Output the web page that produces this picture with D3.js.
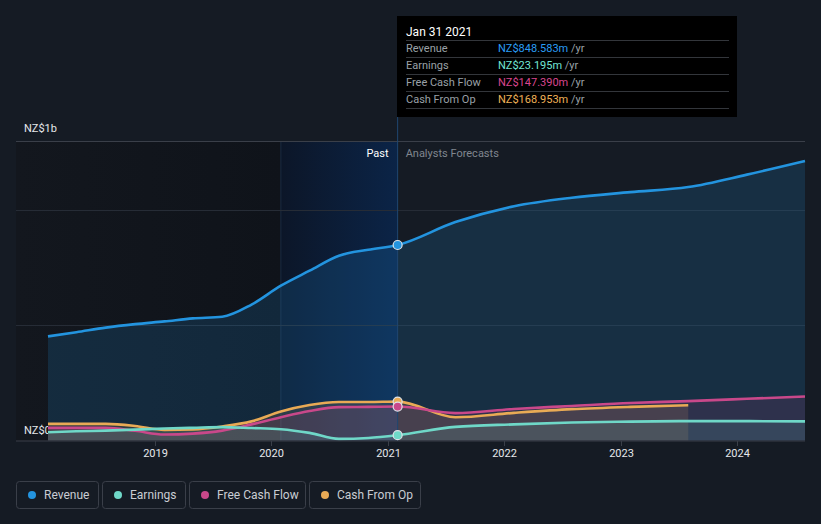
<!DOCTYPE html>
<html><head><meta charset="utf-8">
<script src="https://cdn.jsdelivr.net/npm/d3@7"></script>
<style>html,body{margin:0;padding:0;background:#151b24;} svg{display:block;font-family:Roboto,"Noto Sans",sans-serif;}</style>
</head><body><svg id="c" width="821" height="524"></svg>
<script>
const dates = ["2018-01-31","2018-04-30","2018-07-31","2018-10-31","2019-01-31","2019-04-30","2019-07-31","2019-10-31","2020-01-31","2020-04-30","2020-07-31","2020-10-31","2021-01-31","2021-07-31","2022-01-31","2022-07-31","2023-01-31","2023-07-31","2024-01-31","2024-07-31"];
const revenue = [452,470,490,505,517,530,537,590,672,737,802,828,848.583,948,1017,1054,1078,1100,1154,1213];
const earnings = [36,40,43,47,52,55,58,54,49,33,7,11,23.195,59,70,78,82,84,84,83];
const freeCashFlow = [55,55,55,42,26,30,43,70,101,128,145,146,147.39,119,137,150,163,171,181,191];
const cashFromOp = [72,72,72,63,46,48,61,83,126,154,167,167,168.953,101,120,136,146,153,null,null];
const seriesNames = ["Revenue","Earnings","Free Cash Flow","Cash From Op"];
const seriesColors = ["#2394df","#6fd8c8","#c9488a","#e9aa55"];
const tooltipColors = ["#2a9df4","#72e6d4","#d9468f","#f0b257"];
const tooltipDate = "Jan 31 2021";
const tooltipValues = ["NZ$848.583m","NZ$23.195m","NZ$147.390m","NZ$168.953m"];
const yGridValues = [500,1000,1300];
const yDomainMax = 1300;
const yLabelTop = "NZ$1b", yLabelZero = "NZ$0";
const xTickYears = [2019,2020,2021,2022,2023,2024];
const pastStart = "2020-01-31", pastEnd = "2021-01-31";

(function(){
const parse = d3.timeParse("%Y-%m-%d");
const D = dates.map(parse);
const svg = d3.select("#c");
const pL = 16, pR = 805, pT = 141, pB = 440.5;
const x = d3.scaleTime().domain([D[0], D[D.length-1]]).range([48, 805]);
const y = d3.scaleLinear().domain([0, yDomainMax]).range([pB, pT]);

const defs = svg.append("defs");
const pg = defs.append("linearGradient").attr("id","pastg").attr("x1","0").attr("x2","1").attr("y1","0").attr("y2","0");
pg.append("stop").attr("offset","0").attr("stop-color","#0c1628");
pg.append("stop").attr("offset","1").attr("stop-color","#0b2447");
const lg = defs.append("linearGradient").attr("id","leftg").attr("x1","0").attr("x2","1").attr("y1","0").attr("y2","0");
lg.append("stop").attr("offset","0").attr("stop-color","#13171e");
lg.append("stop").attr("offset","1").attr("stop-color","#0f131a");
defs.append("clipPath").attr("id","lblclip").append("rect").attr("x",0).attr("y",0).attr("width",x(D[0])).attr("height",524);

const xp0 = x(parse(pastStart)), xp1 = x(parse(pastEnd));
svg.append("rect").attr("x",pL).attr("y",pT).attr("width",xp0-pL).attr("height",pB-pT).attr("fill","url(#leftg)");
svg.append("rect").attr("x",xp0).attr("y",pT).attr("width",xp1-xp0).attr("height",pB-pT).attr("fill","url(#pastg)");
svg.append("line").attr("x1",xp0).attr("x2",xp0).attr("y1",pT).attr("y2",pB).attr("stroke","#1a2a40").attr("stroke-width",1);

yGridValues.forEach(v=>{
  svg.append("line").attr("x1",pL).attr("x2",pR).attr("y1",Math.round(y(v))+0.5).attr("y2",Math.round(y(v))+0.5)
    .attr("stroke", v===yDomainMax ? "#3a3f49" : "#262c36").attr("stroke-width",1);
});

svg.append("text").attr("x",24).attr("y",pT-9).attr("fill","#e6e8eb").attr("font-size",11).text(yLabelTop);
svg.append("text").attr("x",24).attr("y",pB-7).attr("fill","#e6e8eb").attr("font-size",11).attr("clip-path","url(#lblclip)").text(yLabelZero);

const series = [revenue, earnings, freeCashFlow, cashFromOp];
const order = [0,3,2,1];
const areaOpac = [0.17,0.13,0.13,0.14];
order.forEach(i=>{
  const vals = series[i];
  const pts = D.map((d,k)=>[d, vals[k]]);
  const area = d3.area().defined(p=>p[1]!=null).x(p=>x(p[0])).y0(y(0)).y1(p=>y(p[1])).curve(d3.curveMonotoneX);
  svg.append("path").datum(pts).attr("d",area).attr("fill",seriesColors[i]).attr("fill-opacity",areaOpac[i]);
});
order.forEach(i=>{
  const vals = series[i];
  const pts = D.map((d,k)=>[d, vals[k]]);
  const line = d3.line().defined(p=>p[1]!=null).x(p=>x(p[0])).y(p=>y(p[1])).curve(d3.curveMonotoneX);
  svg.append("path").datum(pts).attr("d",line).attr("fill","none").attr("stroke",seriesColors[i]).attr("stroke-width",2.6);
});

svg.append("line").attr("x1",xp1).attr("x2",xp1).attr("y1",117).attr("y2",pB).attr("stroke","#1f4670").attr("stroke-width",1);

svg.append("line").attr("x1",pL).attr("x2",pR).attr("y1",441).attr("y2",441).attr("stroke","#3a3f49");
xTickYears.forEach(yr=>{
  const xx = Math.round(x(new Date(yr,0,1)))+0.5;
  svg.append("line").attr("x1",xx).attr("x2",xx).attr("y1",441).attr("y2",446).attr("stroke","#3a3f49");
  svg.append("text").attr("x",xx).attr("y",457).attr("text-anchor","middle").attr("fill","#e6e8eb").attr("font-size",11).text(yr);
});

const ip = dates.indexOf(pastEnd);
order.forEach(i=>{
  svg.append("circle").attr("cx",x(D[ip])).attr("cy",y(series[i][ip])).attr("r",4.5)
    .attr("fill",seriesColors[i]).attr("stroke","#dfe3e8").attr("stroke-width",1.2);
});

svg.append("text").attr("x",xp1-9).attr("y",157).attr("text-anchor","end").attr("fill","#ffffff").attr("font-size",11).text("Past");
svg.append("text").attr("x",xp1+8).attr("y",157).attr("fill","#80868f").attr("font-size",11).text("Analysts Forecasts");

const tt = svg.append("g");
tt.append("rect").attr("x",397).attr("y",16).attr("width",340).attr("height",101).attr("fill","#000000");
tt.append("text").attr("x",406).attr("y",36).attr("fill","#ffffff").attr("font-size",12).text(tooltipDate);
[40,57,74,91,108].forEach(yy=>{
  tt.append("line").attr("x1",406).attr("x2",729).attr("y1",yy+0.5).attr("y2",yy+0.5).attr("stroke","#33363b");
});
seriesNames.forEach((n,i)=>{
  const yy = 52 + i*17;
  tt.append("text").attr("x",406).attr("y",yy).attr("fill","#9aa0a7").attr("font-size",11).text(n);
  const t = tt.append("text").attr("x",498).attr("y",yy).attr("font-size",11);
  t.append("tspan").attr("fill",tooltipColors[i]).text(tooltipValues[i]);
  t.append("tspan").attr("fill","#9aa0a7").text(" /yr");
});

const lgX = [16,102,189,309], lgW = [82,83,116,111];
seriesNames.forEach((n,i)=>{
  const g = svg.append("g");
  g.append("rect").attr("x",lgX[i]+0.5).attr("y",481.5).attr("width",lgW[i]).attr("height",27).attr("rx",3)
    .attr("fill","none").attr("stroke","#3a3f49");
  g.append("circle").attr("cx",lgX[i]+16).attr("cy",495).attr("r",4).attr("fill",seriesColors[i]);
  g.append("text").attr("x",lgX[i]+28).attr("y",499).attr("fill","#c9cdd3").attr("font-size",12).text(n);
});
})();
</script></body></html>
